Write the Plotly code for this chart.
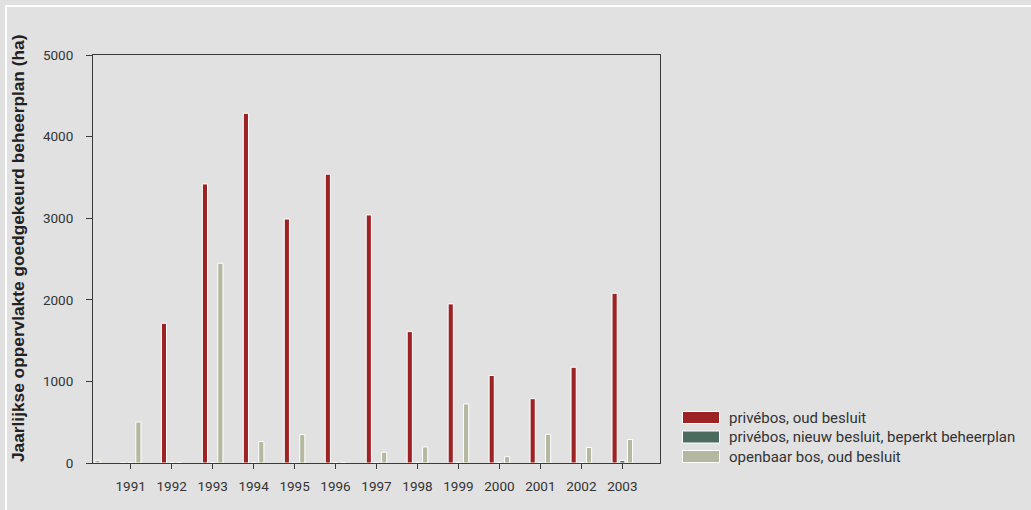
import plotly.graph_objects as go

years = [1990, 1991, 1992, 1993, 1994, 1995, 1996, 1997, 1998, 1999, 2000, 2001, 2002, 2003]
tick_years = [1991, 1992, 1993, 1994, 1995, 1996, 1997, 1998, 1999, 2000, 2001, 2002, 2003]
prive_oud = [0, 0, 1712, 3420, 4285, 2990, 3540, 3040, 1610, 1950, 1072, 788, 1173, 2080]
prive_nieuw = [0, 0, 0, 0, 0, 0, 0, 0, 0, 0, 0, 0, 0, 30]
openbaar_oud = [34, 503, 0, 2448, 263, 348, 0, 132, 197, 724, 78, 352, 190, 288]

series_names = ["privébos, oud besluit",
                "privébos, nieuw besluit, beperkt beheerplan",
                "openbaar bos, oud besluit"]
series_colors = ["#9c2224", "#4b6b5f", "#b4b8a0"]
series_values = [prive_oud, prive_nieuw, openbaar_oud]

W, H = 1031, 510
L, R, T, B = 93, 660, 55, 463
BG = "#e0e1e0"
AX = "#3a3a3a"
FONT = "Roboto, Arial, sans-serif"

fig = go.Figure()
for name, col, vals in zip(series_names, series_colors, series_values):
    fig.add_trace(go.Bar(
        x=years, y=vals, name=name,
        marker=dict(color=col, line=dict(color="white", width=1)),
        showlegend=False,
    ))


def px(x):
    return (x - L) / (R - L)


def py(y):
    return (B - y) / (B - T)


shapes = [
    # white frame line (left and top visible)
    dict(type="rect", xref="paper", yref="paper",
         x0=px(6), x1=px(1040), y0=py(520), y1=py(6),
         line=dict(color="white", width=2), fillcolor="rgba(0,0,0,0)", layer="below"),
]
annotations = [
    dict(xref="paper", yref="paper", x=px(18), y=py(249), text="<b>Jaarlijkse oppervlakte goedgekeurd beheerplan (ha)</b>",
         textangle=-90, showarrow=False, xanchor="center", yanchor="middle",
         font=dict(family="Liberation Sans, Arial, sans-serif", size=17.3, color="#222222")),
]
for i, (name, col) in enumerate(zip(series_names, series_colors)):
    cy = 417.5 + i * 19.5
    shapes.append(dict(type="rect", xref="paper", yref="paper",
                       x0=px(682.5), x1=px(719.5), y0=py(cy + 6), y1=py(cy - 6),
                       fillcolor=col, line=dict(color="white", width=1)))
    annotations.append(dict(xref="paper", yref="paper", x=px(727), y=py(cy), text=name,
                            showarrow=False, xanchor="left", yanchor="middle",
                            font=dict(family=FONT, size=15, color="#333333")))

fig.update_layout(
    width=W, height=H,
    margin=dict(l=L, r=W - R, t=T, b=H - B, pad=0),
    paper_bgcolor=BG, plot_bgcolor=BG,
    barmode="group", bargap=0.436, bargroupgap=0.33,
    font=dict(family=FONT, size=13, color="#333333"),
    shapes=shapes, annotations=annotations,
    xaxis=dict(range=[1990.08, 2003.92], tickmode="array", tickvals=tick_years,
               ticktext=[str(y) for y in tick_years],
               showgrid=False, zeroline=False, showline=True, linecolor=AX, linewidth=1,
               mirror=True, ticks="outside", ticklen=5, tickcolor=AX, tickwidth=1,
               ticklabelstandoff=6, tickfont=dict(size=13.5, color="#333333")),
    yaxis=dict(range=[0, 5000], tickvals=[0, 1000, 2000, 3000, 4000, 5000],
               showgrid=False, zeroline=False, showline=True, linecolor=AX, linewidth=1,
               mirror=True, ticks="outside", ticklen=6, tickcolor=AX, tickwidth=1,
               ticklabelstandoff=10, tickfont=dict(size=13.5, color="#333333")),
)

fig.write_html("out.html", config={"displayModeBar": False},
               post_script="document.body.style.margin='0px';document.body.style.background='#e0e1e0';")
